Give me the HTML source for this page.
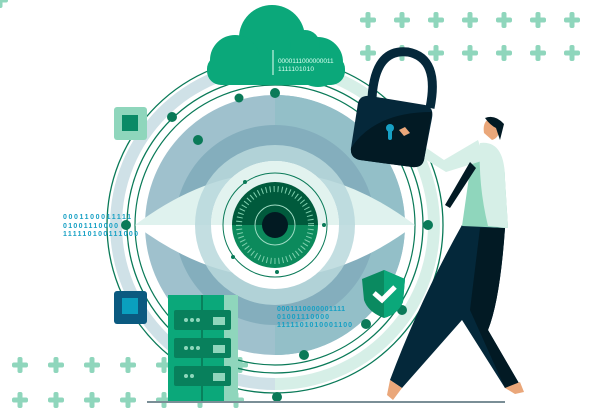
<!DOCTYPE html>
<html><head><style>body{margin:0;background:#fff}svg{display:block}</style></head><body>
<svg width="600" height="420" viewBox="0 0 600 420" xmlns="http://www.w3.org/2000/svg" font-family="Liberation Sans, sans-serif">
<defs><clipPath id="ic"><circle cx="275" cy="225" r="43"/></clipPath></defs>
<g fill="#8fd6bc">
<g id="p"><rect x="-2.5" y="-8" width="5" height="16" rx="2"/><rect x="-8" y="-2.5" width="16" height="5" rx="2"/></g>
</g>
<g fill="#8fd6bc">
<use href="#p" x="368" y="20"/><use href="#p" x="402" y="20"/><use href="#p" x="436" y="20"/><use href="#p" x="470" y="20"/><use href="#p" x="504" y="20"/><use href="#p" x="538" y="20"/><use href="#p" x="572" y="20"/>
<use href="#p" x="368" y="53"/><use href="#p" x="402" y="53"/><use href="#p" x="436" y="53"/><use href="#p" x="470" y="53"/><use href="#p" x="504" y="53"/><use href="#p" x="538" y="53"/><use href="#p" x="572" y="53"/>
<use href="#p" x="20" y="365"/><use href="#p" x="56" y="365"/><use href="#p" x="92" y="365"/><use href="#p" x="128" y="365"/><use href="#p" x="164" y="365"/><use href="#p" x="240" y="365"/>
<use href="#p" x="20" y="400"/><use href="#p" x="56" y="400"/><use href="#p" x="92" y="400"/><use href="#p" x="128" y="400"/><use href="#p" x="164" y="400"/><use href="#p" x="200" y="400"/><use href="#p" x="236" y="400"/>
</g>
<path d="M275 60 A165 165 0 0 0 275 390 L275 378 A153 153 0 0 1 275 72Z" fill="#cfe1e7"/>
<path d="M275 60 A165 165 0 0 1 275 390 L275 378 A153 153 0 0 0 275 72Z" fill="#d6efe7"/>
<circle cx="275" cy="225" r="168" fill="none" stroke="#0a7a58" stroke-width="1.3"/>
<circle cx="275" cy="225" r="148" fill="none" stroke="#0a7a58" stroke-width="1.3"/>
<circle cx="275" cy="225" r="140" fill="none" stroke="#0a7a58" stroke-width="1.2"/>
<circle cx="275" cy="225" r="130" fill="#9fc1cd"/>
<path d="M275 95 A130 130 0 0 1 275 355Z" fill="#93bfc8"/>
<circle cx="275" cy="225" r="100" fill="#84aebd"/>
<path d="M135 225 Q275 120 415 225 Z" fill="#dff2ee"/>
<path d="M135 225 Q275 330 415 225 Z" fill="#fff"/>
<circle cx="275" cy="225" r="80" fill="#b9d8dc" opacity=".85"/>
<circle cx="275" cy="225" r="64" fill="#fff"/>
<path d="M211 225 A64 64 0 0 1 339 225Z" fill="#e2f3ef"/>
<circle cx="275" cy="225" r="52" fill="none" stroke="#0a7a58" stroke-width="1"/>
<g clip-path="url(#ic)"><rect x="230" y="180" width="90" height="45" fill="#005a3c"/><rect x="230" y="225" width="90" height="45" fill="#0c8a5c"/></g>
<circle cx="275" cy="225" r="36" fill="none" stroke="#7fd0ae" stroke-width="6" stroke-dasharray="1 3"/>
<circle cx="275" cy="225" r="20" fill="none" stroke="#9fdcc4" stroke-width="1"/>
<circle cx="275" cy="225" r="13" fill="#021a22"/>
<g fill="#0a7a58"><circle cx="275" cy="93" r="5"/><circle cx="239" cy="98" r="4.5"/><circle cx="172" cy="117" r="5"/><circle cx="198" cy="140" r="5"/><circle cx="126" cy="225" r="5"/><circle cx="428" cy="225" r="5"/><circle cx="366" cy="324" r="5"/><circle cx="402" cy="310" r="5"/><circle cx="304" cy="355" r="5"/><circle cx="277" cy="397" r="5"/><circle cx="245" cy="182" r="2"/><circle cx="324" cy="225" r="2"/><circle cx="233" cy="257" r="2"/><circle cx="277" cy="272" r="2"/></g>
<g fill="#0ba87a"><circle cx="272" cy="38" r="33"/><circle cx="235" cy="60" r="25"/><circle cx="318" cy="62" r="25"/><circle cx="305" cy="45" r="15"/><rect x="207" y="55" width="138" height="30" rx="14"/></g>
<line x1="273" y1="50" x2="273" y2="75" stroke="#e8fff6" stroke-width="1"/>
<text x="278" y="63" font-size="6.5" fill="#d8fff0" letter-spacing=".4" textLength="56">0000111000000011</text>
<text x="278" y="71" font-size="6.5" fill="#d8fff0" textLength="36">1111101010</text>
<rect x="114" y="107" width="33" height="33" rx="3" fill="#8fd6bc"/><rect x="122" y="115" width="16" height="16" fill="#0a8a66"/>
<rect x="114" y="291" width="33" height="33" rx="3" fill="#0b5a80"/><rect x="122" y="298" width="16" height="16" fill="#0aa0bf"/>
<g font-size="7" fill="#17a0c4" font-weight="bold"><text x="63" y="219" textLength="68">0001100011111</text><text x="63" y="228" textLength="55">01001110000</text><text x="63" y="236" textLength="75">111110100111000</text>
<text x="277" y="311" textLength="68">0001110000001111</text><text x="277" y="319" textLength="52">01001110000</text><text x="277" y="327" textLength="75">1111101010001100</text></g>
<rect x="168" y="295" width="70" height="108" fill="#0ba87a"/><rect x="224" y="295" width="14" height="108" fill="#8fd6bc"/><rect x="201" y="295" width="2" height="108" fill="#08805c"/>
<g fill="#08805c"><rect x="174" y="310" width="57" height="20" rx="2"/><rect x="174" y="338" width="57" height="20" rx="2"/><rect x="174" y="366" width="57" height="20" rx="2"/></g>
<g fill="#8fd6bc"><circle cx="186" cy="320" r="2"/><circle cx="192" cy="320" r="2"/><circle cx="198" cy="320" r="2"/><circle cx="186" cy="348" r="2"/><circle cx="192" cy="348" r="2"/><circle cx="198" cy="348" r="2"/><circle cx="186" cy="376" r="2"/><circle cx="192" cy="376" r="2"/><rect x="213" y="317" width="12" height="8"/><rect x="213" y="345" width="12" height="8"/><rect x="213" y="373" width="12" height="8"/></g>
<path d="M362 279 L384 270 L405 279 L403 302 Q398 314 384 318 Q368 312 364 300Z" fill="#0a8a60"/>
<path d="M384 270 L405 279 L403 302 Q398 314 384 318Z" fill="#0ba87a"/>
<path d="M374 293 L382 300 L395 287" fill="none" stroke="#fff" stroke-width="5"/>
<line x1="147" y1="402" x2="505" y2="402" stroke="#7a8e96" stroke-width="2"/>
<path d="M462 225 L505 228 Q500 300 488 330 L520 385 L505 388 L462 320 L402 388 L390 380 Q420 300 462 225Z" fill="#04283a"/>
<path d="M480 228 L505 228 Q500 300 488 330 L520 385 L505 388 L470 310Z" fill="#021a24"/>
<path d="M390 380 L402 388 L393 400 L387 395Z" fill="#eaa77a"/><path d="M505 388 L520 382 L524 392 L515 394Z" fill="#eaa77a"/>
<path d="M466 155 Q505 138 505 180 L508 228 L462 226 L470 170Z" fill="#8fd6bc"/>
<path d="M480 143 Q505 140 505 180 L508 228 L488 226 Q478 185 480 143Z" fill="#d6efe7"/>
<path d="M400 130 L444 160 L478 140 L485 160 L446 172 L394 140Z" fill="#d6efe7"/>
<path d="M470 162 L445 205 L450 208 L476 168Z" fill="#021a24"/>
<path d="M484 133 Q482 120 492 118 L500 125 Q500 138 492 140Z" fill="#eaa77a"/>
<path d="M485 118 Q495 114 504 124 L500 140 L496 128 Q490 125 485 118Z" fill="#021a24"/>
<path d="M372 98 Q375 48 408 52 Q440 58 430 108" fill="none" stroke="#05283a" stroke-width="9"/>
<path d="M358 103 Q360 95 370 96 L425 105 Q434 107 432 118 L424 160 Q422 168 412 167 L360 160 Q350 158 351 148Z" fill="#05283a"/>
<path d="M351 148 Q375 112 432 112 L424 160 Q422 168 412 167 L360 160 Q350 158 351 148Z" fill="#021a24"/>
<circle cx="390" cy="128" r="4" fill="#17a0c4"/><rect x="388" y="128" width="4" height="12" rx="2" fill="#17a0c4"/>
<path d="M399 130 L405 127 L410 133 L404 136Z" fill="#eaa77a"/>
</svg>
</body></html>
